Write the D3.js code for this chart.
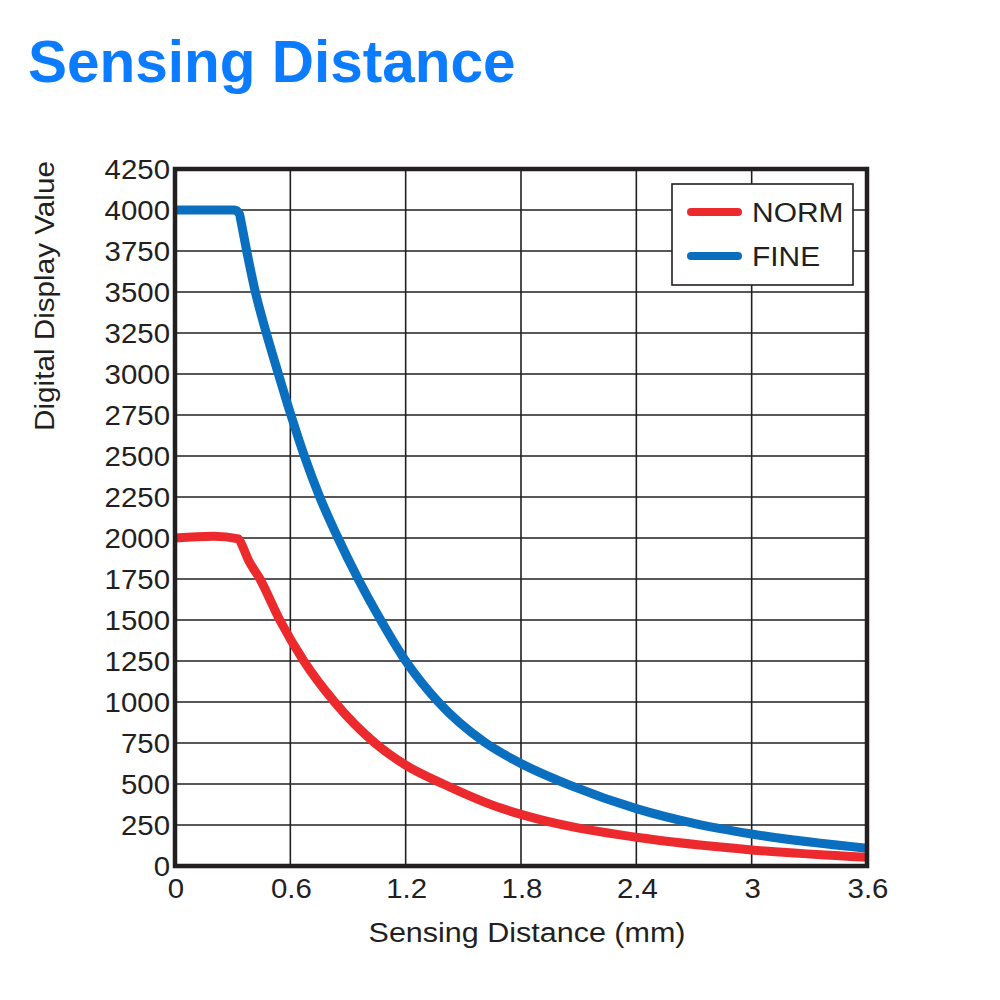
<!DOCTYPE html>
<html>
<head>
<meta charset="utf-8">
<script src="https://cdn.jsdelivr.net/npm/d3@7"></script>
<style>
  body { margin: 0; background: #fff; }
  text { font-family: "Liberation Sans", Arial, Helvetica, sans-serif; }
</style>
</head>
<body>
<div id="chart"></div>
<script>
// values
const normX = [0, 0.2, 0.33, 0.347, 0.38, 0.442, 0.545, 0.67, 0.83, 1.04, 1.2, 1.396, 1.69, 1.8, 2.0, 2.4, 3.0, 3.6];
const normY = [2000, 2010, 1995, 1960, 1870, 1750, 1500, 1250, 1000, 750, 615, 500, 355, 315, 255, 175, 98, 53];

const fineX = [0, 0.31, 0.335, 0.345, 0.373, 0.418, 0.475, 0.538, 0.603, 0.673, 0.753, 0.848, 0.953, 1.07, 1.2, 1.37, 1.61, 1.8, 2.06, 2.4, 2.7, 3.0, 3.6];
const fineY = [4000, 4000, 3975, 3920, 3750, 3500, 3250, 3000, 2750, 2500, 2250, 2000, 1750, 1500, 1250, 1000, 755, 625, 490, 350, 260, 195, 108];

const xTicks = [0, 0.6, 1.2, 1.8, 2.4, 3, 3.6];
const xTickLabels = ["0", "0.6", "1.2", "1.8", "2.4", "3", "3.6"];
const yTicks = d3.range(0, 4251, 250);

const seriesNames = ["NORM", "FINE"];
const seriesColors = ["#ec2a2d", "#0a6fbf"];

const width = 1000, height = 1000;
const margin = { left: 175, right: 133, top: 169, bottom: 134 };
const stretch = 1.09; // text in the picture is a little wide

const svg = d3.select("#chart")
  .append("svg")
  .attr("width", width)
  .attr("height", height);

// title
svg.append("text")
  .attr("x", 28)
  .attr("y", 82)
  .attr("font-size", 58.5)
  .attr("font-weight", "bold")
  .attr("fill", "#0b7cff")
  .text("Sensing Distance");

const x = d3.scaleLinear().domain([0, 3.6]).range([margin.left, width - margin.right]);
const y = d3.scaleLinear().domain([0, 4250]).range([height - margin.bottom, margin.top]);

// grid
svg.append("g")
  .selectAll("line")
  .data(yTicks.slice(1, -1))
  .join("line")
  .attr("x1", x(0)).attr("x2", x(3.6))
  .attr("y1", d => y(d)).attr("y2", d => y(d))
  .attr("stroke", "#231f20")
  .attr("stroke-width", 1.6);

svg.append("g")
  .selectAll("line")
  .data(xTicks.slice(1, -1))
  .join("line")
  .attr("x1", d => x(d)).attr("x2", d => x(d))
  .attr("y1", y(0)).attr("y2", y(4250))
  .attr("stroke", "#231f20")
  .attr("stroke-width", 1.6);

// tick labels
svg.append("g")
  .selectAll("text")
  .data(yTicks)
  .join("text")
  .attr("transform", d => `translate(${x(0) - 5},${y(d)}) scale(${stretch},1)`)
  .attr("dy", "0.36em")
  .attr("text-anchor", "end")
  .attr("font-size", 27)
  .attr("fill", "#231f20")
  .text(d => d);

svg.append("g")
  .selectAll("text")
  .data(xTicks)
  .join("text")
  .attr("transform", d => `translate(${x(d) + 1},898) scale(${stretch},1)`)
  .attr("text-anchor", "middle")
  .attr("font-size", 27)
  .attr("fill", "#231f20")
  .text((d, i) => xTickLabels[i]);

// axis titles
svg.append("text")
  .attr("transform", `translate(527,942) scale(${stretch},1)`)
  .attr("text-anchor", "middle")
  .attr("font-size", 28)
  .attr("fill", "#231f20")
  .text("Sensing Distance (mm)");

svg.append("text")
  .attr("transform", `translate(54,296) rotate(-90) scale(1.06,1)`)
  .attr("text-anchor", "middle")
  .attr("font-size", 28)
  .attr("fill", "#231f20")
  .text("Digital Display Value");

// curves
const line = d3.line()
  .x(d => x(d[0]))
  .y(d => y(d[1]))
  .curve(d3.curveMonotoneX);

const series = [
  d3.zip(normX, normY),
  d3.zip(fineX, fineY)
];

svg.append("clipPath").attr("id", "plot-clip")
  .append("rect")
  .attr("x", x(0)).attr("y", y(4250))
  .attr("width", x(3.6) - x(0)).attr("height", y(0) - y(4250));

svg.append("g")
  .attr("clip-path", "url(#plot-clip)")
  .selectAll("path")
  .data(series)
  .join("path")
  .attr("d", line)
  .attr("fill", "none")
  .attr("stroke", (d, i) => seriesColors[i])
  .attr("stroke-width", 9)
  .attr("stroke-linejoin", "round")
  .attr("stroke-linecap", "round");

// frame
svg.append("rect")
  .attr("x", x(0)).attr("y", y(4250))
  .attr("width", x(3.6) - x(0)).attr("height", y(0) - y(4250))
  .attr("fill", "none")
  .attr("stroke", "#231f20")
  .attr("stroke-width", 4.5);

// legend
const legend = svg.append("g");
legend.append("rect")
  .attr("x", 672).attr("y", 184)
  .attr("width", 181).attr("height", 101)
  .attr("fill", "#fff")
  .attr("stroke", "#231f20")
  .attr("stroke-width", 1.6);

const items = legend.selectAll("g.item")
  .data(seriesNames)
  .join("g")
  .attr("class", "item")
  .attr("transform", (d, i) => `translate(0,${212 + i * 44})`);

items.append("line")
  .attr("x1", 691).attr("x2", 738)
  .attr("stroke", (d, i) => seriesColors[i])
  .attr("stroke-width", 8)
  .attr("stroke-linecap", "round");

items.append("text")
  .attr("transform", `translate(752,0) scale(1.07,1)`)
  .attr("dy", "0.36em")
  .attr("font-size", 28)
  .attr("fill", "#231f20")
  .text(d => d);
</script>
</body>
</html>
